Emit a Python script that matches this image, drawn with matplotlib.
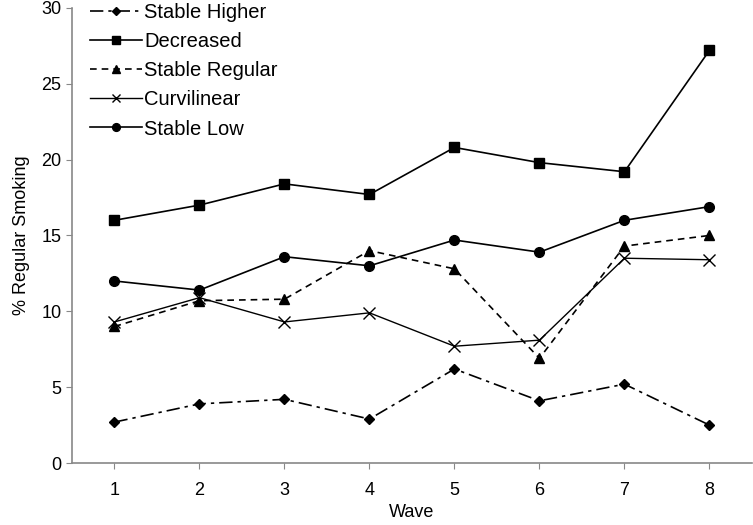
import matplotlib
matplotlib.use("Agg")
import matplotlib.pyplot as plt

plt.rcParams['font.family'] = ['Liberation Sans', 'DejaVu Sans']

waves = [1, 2, 3, 4, 5, 6, 7, 8]
stable_higher = [2.7, 3.9, 4.2, 2.9, 6.2, 4.1, 5.2, 2.5]
decreased = [16.0, 17.0, 18.4, 17.7, 20.8, 19.8, 19.2, 27.2]
stable_regular = [9.0, 10.7, 10.8, 14.0, 12.8, 6.9, 14.3, 15.0]
curvilinear = [9.3, 10.9, 9.3, 9.9, 7.7, 8.1, 13.5, 13.4]
stable_low = [12.0, 11.4, 13.6, 13.0, 14.7, 13.9, 16.0, 16.9]

fig = plt.figure(figsize=(7.53, 5.25), dpi=100)
ax = fig.add_axes([0.0956, 0.118, 0.903, 0.867])

ax.plot(waves, stable_higher, color='black', lw=1.2, ls=(0, (8, 3, 2, 3)),
        marker='D', ms=5, label='Stable Higher')
ax.plot(waves, decreased, color='black', lw=1.2, ls='-',
        marker='s', ms=7, label='Decreased')
ax.plot(waves, stable_regular, color='black', lw=1.2, ls=(0, (4, 3)),
        marker='^', ms=7, label='Stable Regular')
ax.plot(waves, curvilinear, color='black', lw=1.0, ls='-',
        marker='x', ms=8, mew=1.0, label='Curvilinear')
ax.plot(waves, stable_low, color='black', lw=1.2, ls='-',
        marker='o', ms=7, label='Stable Low')

ax.set_xlim(0.5, 8.5)
ax.set_ylim(0, 30)
ax.set_xticks(waves)
ax.set_yticks([0, 5, 10, 15, 20, 25, 30])
ax.tick_params(labelsize=13, length=4, color='#888888')
ax.tick_params(axis='x', pad=10)
for s in ['top', 'right']:
    ax.spines[s].set_visible(False)
for s in ['left', 'bottom']:
    ax.spines[s].set_color('#888888')
    ax.spines[s].set_linewidth(1.2)

ax.set_xlabel('Wave', fontsize=13, labelpad=3)
ax.set_ylabel('% Regular Smoking', fontsize=13, labelpad=8)

ax.legend(loc='upper left', bbox_to_anchor=(0.0, 1.05), frameon=False,
          fontsize=14.5, handlelength=2.6, handletextpad=0.1,
          labelspacing=0.5, markerscale=0.8)

fig.savefig('out.png', dpi=100)
